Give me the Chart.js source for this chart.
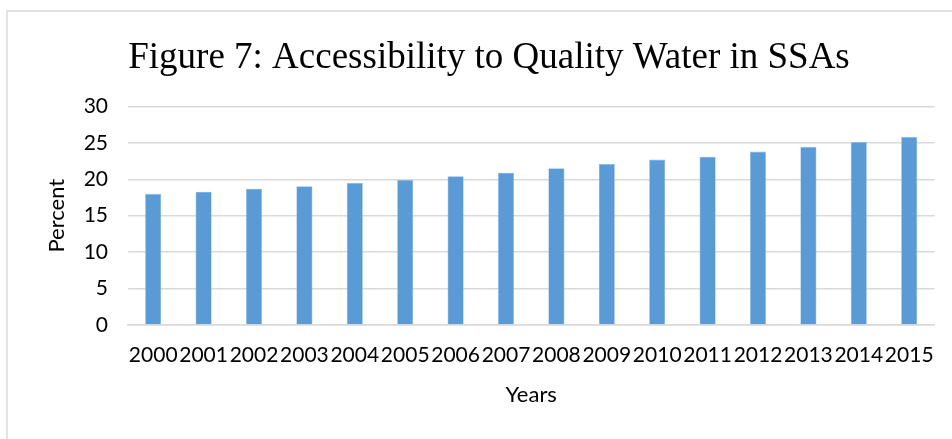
<!DOCTYPE html>
<html>
<head>
<meta charset="utf-8">
<title>Figure 7</title>
<script src="https://cdn.jsdelivr.net/npm/chart.js@4/dist/chart.umd.min.js"></script>
<style>
  html, body { margin: 0; padding: 0; background: #fff; }
  #wrap { width: 952px; height: 439px; }
</style>
</head>
<body>
<div id="wrap"><canvas id="bar-chart" width="952" height="439"></canvas></div>
<script>
var years = ["2000","2001","2002","2003","2004","2005","2006","2007",
             "2008","2009","2010","2011","2012","2013","2014","2015"];
var percent = [18.0, 18.3, 18.7, 19.05, 19.5, 19.9, 20.4, 20.9,
               21.5, 22.1, 22.7, 23.1, 23.8, 24.45, 25.1, 25.8];
var yTicks = [0, 5, 10, 15, 20, 25, 30];

// light grey frame round the whole chart, like the Excel chart area
var framePlugin = {
    id: 'frame',
    beforeDraw: function(chart){
        var ctx = chart.ctx;
        ctx.save();
        ctx.fillStyle = '#fff';
        ctx.fillRect(0, 0, chart.width, chart.height);
        ctx.strokeStyle = '#d9d9d9';
        ctx.lineWidth = 1.5;
        ctx.strokeRect(7, 11, chart.width + 20, chart.height + 20);
        ctx.restore();
    }
};

var tickFont = { family: 'Lato', size: 21 };

var barData = {
    labels: years,
    datasets: [{
        label: 'Percent',
        data: percent,
        backgroundColor: '#5b9bd5',
        borderColor: '#8fbbe6',
        borderWidth: 0.6,
        categoryPercentage: 1,
        barPercentage: 0.32
    }]
};

var barOptions = {
    responsive: false,
    animation: false,
    layout: { padding: { left: 40, right: 14, top: 16, bottom: 31 } },
    plugins: {
        legend: { display: false },
        tooltip: { enabled: false },
        title: {
            display: true,
            text: 'Figure 7: Accessibility to Quality Water in SSAs',
            color: '#000',
            font: { family: 'Liberation Serif', size: 37, weight: 'normal' },
            padding: { top: 20, bottom: 26 }
        }
    },
    scales: {
        x: {
            afterFit: function(axis){ axis.height = 83; },
            grid: { display: false, drawTicks: false },
            border: { color: '#d9d9d9', width: 1.5 },
            ticks: { color: '#000', font: tickFont, padding: 18, autoSkip: false, maxRotation: 0, minRotation: 0 },
            title: { display: true, text: 'Years', color: '#000', font: { family: 'Lato', size: 22 }, padding: { top: 14, bottom: 0 } }
        },
        y: {
            min: 0,
            max: 30,
            afterBuildTicks: function(axis){
                axis.ticks = yTicks.map(function(v){ return { value: v }; });
            },
            afterFit: function(axis){ axis.width = 88; },
            grid: { color: '#d9d9d9', lineWidth: 1.5, drawTicks: false },
            border: { display: false },
            ticks: { color: '#000', font: tickFont, padding: 20 },
            title: { display: true, text: 'Percent', color: '#000', font: { family: 'Lato', size: 22 }, padding: { top: 4, bottom: 0 } }
        }
    }
};

var ctx = document.getElementById('bar-chart').getContext('2d');
var myChart = new Chart(ctx, { type: 'bar', data: barData, options: barOptions, plugins: [framePlugin] });
</script>
</body>
</html>
